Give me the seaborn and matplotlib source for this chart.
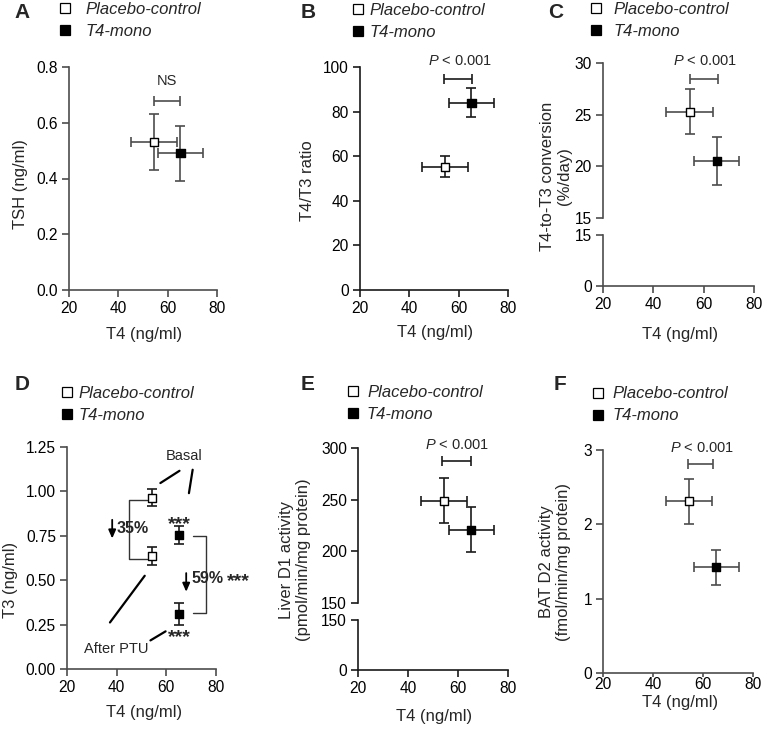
import matplotlib
matplotlib.use("Agg")
import matplotlib.pyplot as plt
import seaborn as sns
import pandas as pd
from matplotlib.lines import Line2D

# ---- data (mean, SD) ----
GROUPS = ["Placebo-control", "T4-mono"]
T4_MEAN = [54.4, 65.2]
T4_SD = [9.2, 9.0]

TSH_MEAN = [0.53, 0.49]
TSH_SD = [0.10, 0.10]
RATIO_MEAN = [55.3, 84.0]
RATIO_SD = [4.8, 6.4]
CONV_MEAN = [25.3, 20.5]
CONV_SD = [2.2, 2.3]
T3_BASAL = [0.965, 0.755]
T3_BASAL_SD = [0.05, 0.05]
T3_PTU = [0.635, 0.31]
T3_PTU_SD = [0.05, 0.06]
D1_MEAN = [249, 221]
D1_SD = [22, 21.5]
D2_MEAN = [2.31, 1.42]
D2_SD = [0.30, 0.23]

PALETTE = {"Placebo-control": "white", "T4-mono": "black"}
GRAY = "#4d4d4d"
DARK = "#1a1a1a"

sns.set_style("ticks")
plt.rcParams["font.family"] = ["Liberation Sans", "DejaVu Sans"]
plt.rcParams["mathtext.fontset"] = "custom"
plt.rcParams["mathtext.rm"] = "Liberation Sans"
plt.rcParams["mathtext.it"] = "Liberation Sans:italic"

W, H = 765, 739
fig = plt.figure(figsize=(W / 100, H / 100), dpi=100)


def pix_axes(l, t, r, b):
    return fig.add_axes([l / W, 1 - b / H, (r - l) / W, (b - t) / H])


def style(ax, col, show_x=True, xpad=3):
    ax.set_xlim(20, 80)
    ax.set_xticks([20, 40, 60, 80])
    sns.despine(ax=ax)
    for s in ["left", "bottom"]:
        ax.spines[s].set_color(col)
        ax.spines[s].set_linewidth(1.2)
    ax.tick_params(direction="out", length=5, width=1.2, color=col,
                   labelsize=11.2, pad=3, labelcolor="black")
    ax.tick_params(axis="x", pad=xpad)
    if not show_x:
        ax.spines["bottom"].set_visible(False)
        ax.tick_params(axis="x", bottom=False, labelbottom=False)
    ax.set_xlabel("")
    ax.set_ylabel("")


def points(ax, ymean, ysd, col, xerr=True):
    df = pd.DataFrame({"T4": T4_MEAN, "val": ymean, "group": GROUPS})
    ax.errorbar(df["T4"], df["val"], xerr=T4_SD if xerr else None, yerr=ysd,
                fmt="none", ecolor=col, elinewidth=1.2, capsize=3.3,
                capthick=1.2, zorder=2)
    sns.scatterplot(data=df, x="T4", y="val", hue="group", palette=PALETTE,
                    marker="s", s=34, edgecolor="black", linewidth=1,
                    legend=False, ax=ax, zorder=3)
    ax.set_xlabel("")
    ax.set_ylabel("")


def bracket(ax, x0, x1, y, col):
    ax.errorbar([(x0 + x1) / 2], [y], xerr=[(x1 - x0) / 2], fmt="none",
                ecolor=col, elinewidth=1.2, capsize=3.3, capthick=1.2)


def legend(ax, mx, y1, y2, pad, ms=6.5):
    handles = [Line2D([], [], ls="none", marker="s", ms=ms, mfc="white",
                      mec="black", mew=0.9),
               Line2D([], [], ls="none", marker="s", ms=ms, mfc="black",
                      mec="black", mew=0.9)]
    ax.legend(handles, GROUPS, loc="center left",
              bbox_to_anchor=((mx - 6) / W, 1 - (y1 + y2) / 2 / H),
              bbox_transform=fig.transFigure, frameon=False, borderpad=0,
              borderaxespad=0, handlelength=0.75, handletextpad=pad,
              labelspacing=0.42, prop={"style": "italic", "size": 12})


def ftext(x, y, s, **kw):
    fig.text(x / W, 1 - y / H, s, ha="center", va="center", **kw)


STARS = dict(fontsize=14, fontweight="bold", va="center")

# ---- A ----
ax = pix_axes(69, 67, 217, 290)
points(ax, TSH_MEAN, TSH_SD, GRAY)
ax.set_ylim(0, 0.8)
ax.set_yticks([0, 0.2, 0.4, 0.6, 0.8])
ax.set_yticklabels(["0.0", "0.2", "0.4", "0.6", "0.8"])
style(ax, GRAY)
bracket(ax, 54.4, 65.2, 0.677, GRAY)
ax.text(59.8, 0.75, "NS", ha="center", va="center", fontsize=10.5)
legend(ax, 65, 9, 32, 0.85, ms=7.5)
ftext(21, 184, "TSH (ng/ml)", rotation=90, fontsize=12)
ftext(144, 335, "T4 (ng/ml)", fontsize=12)
ftext(22, 13, "A", fontsize=15, fontweight="bold")

# ---- B ----
ax = pix_axes(360, 67, 508, 290)
points(ax, RATIO_MEAN, RATIO_SD, DARK)
ax.set_ylim(0, 100)
ax.set_yticks(range(0, 101, 20))
style(ax, DARK)
bracket(ax, 54.0, 65.3, 94.7, DARK)
ax.text(60.7, 102.5, "$P$ < 0.001", ha="center", va="center", fontsize=10.5)
legend(ax, 358, 10, 33, 0.32)
ftext(307, 181, "T4/T3 ratio", rotation=90, fontsize=12)
ftext(435, 333, "T4 (ng/ml)", fontsize=12)
ftext(308, 13, "B", fontsize=15, fontweight="bold")

# ---- C (broken y axis) ----
ax = pix_axes(603, 63, 754, 218)
points(ax, CONV_MEAN, CONV_SD, GRAY)
ax.set_ylim(15, 30)
ax.set_yticks([15, 20, 25, 30])
style(ax, GRAY, show_x=False)
bracket(ax, 54.6, 65.8, 28.45, GRAY)
ax.text(60.5, 30.2, "$P$ < 0.001", ha="center", va="center", fontsize=10.5)
legend(ax, 596, 9, 31, 0.65)
axl = pix_axes(603, 235, 754, 286)
axl.set_ylim(0, 15)
axl.set_yticks([0, 15])
style(axl, GRAY)
ftext(556, 176, "T4-to-T3 conversion\n(%/day)", rotation=90, fontsize=12,
      linespacing=1.1)
ftext(680, 335, "T4 (ng/ml)", fontsize=12)
ftext(556, 13, "C", fontsize=15, fontweight="bold")

# ---- D ----
ax = pix_axes(67, 447, 216, 669)
points(ax, T3_BASAL, T3_BASAL_SD, DARK, xerr=False)
points(ax, T3_PTU, T3_PTU_SD, DARK, xerr=False)
ax.set_ylim(0, 1.25)
ax.set_yticks([0, 0.25, 0.5, 0.75, 1.0, 1.25])
ax.set_yticklabels(["0.00", "0.25", "0.50", "0.75", "1.00", "1.25"])
style(ax, GRAY)
# brackets between basal and after PTU
ax.plot([52.2, 45, 45, 52.2], [0.952, 0.952, 0.621, 0.621], color="#333333", lw=1)
ax.plot([70.7, 76, 76, 70.7], [0.75, 0.75, 0.315, 0.315], color="#333333", lw=1)
arrow = dict(arrowstyle="-|>,head_length=0.5,head_width=0.22", color="black",
             lw=1.3, shrinkA=0, shrinkB=0)
ax.annotate("", xy=(38.2, 0.735), xytext=(38.2, 0.84), arrowprops=arrow)
ax.annotate("", xy=(68.0, 0.435), xytext=(68.0, 0.54), arrowprops=arrow)
ax.text(40, 0.79, "35%", ha="left", va="center", fontsize=11.5, fontweight="bold")
ax.text(70.2, 0.51, "59%", ha="left", va="center", fontsize=11.5, fontweight="bold")
ax.text(84.5, 0.495, "***", ha="left", **STARS)
ax.text(65.3, 0.815, "***", ha="center", **STARS)
ax.text(65.3, 0.178, "***", ha="center", **STARS)
ax.text(67, 1.2, "Basal", ha="center", va="center", fontsize=10.5)
ax.text(39.7, 0.11, "After PTU", ha="center", va="center", fontsize=10.5)
ax.plot([57.6, 65.3], [1.047, 1.116], color="black", lw=1.6)
ax.plot([70.6, 69.1], [1.122, 0.99], color="black", lw=1.6)
ax.plot([37.3, 51.3], [0.262, 0.525], color="black", lw=1.6)
ax.plot([53.6, 59.7], [0.161, 0.212], color="black", lw=1.6)
legend(ax, 67, 392, 417, 0.3)
ftext(11, 580, "T3 (ng/ml)", rotation=90, fontsize=12)
ftext(144, 712, "T4 (ng/ml)", fontsize=12)
ftext(22, 385, "D", fontsize=15, fontweight="bold")

# ---- E (broken y axis) ----
ax = pix_axes(358, 448, 508, 603)
points(ax, D1_MEAN, D1_SD, DARK)
ax.set_ylim(150, 300)
ax.set_yticks([150, 200, 250, 300])
style(ax, DARK, show_x=False)
bracket(ax, 53.6, 65.1, 287, DARK)
ax.text(59.5, 303, "$P$ < 0.001", ha="center", va="center", fontsize=10.5)
legend(ax, 353, 391, 415, 0.45)
axl = pix_axes(358, 620, 508, 670)
axl.set_ylim(0, 150)
axl.set_yticks([0, 150])
style(axl, DARK)
ftext(295, 560, "Liver D1 activity\n(pmol/min/mg protein)", rotation=90,
      fontsize=12, linespacing=1.1)
ftext(434, 717, "T4 (ng/ml)", fontsize=12)
ftext(308, 385, "E", fontsize=15, fontweight="bold")

# ---- F ----
ax = pix_axes(603, 450, 753, 673)
points(ax, D2_MEAN, D2_SD, GRAY)
ax.set_ylim(0, 3)
ax.set_yticks([0, 1, 2, 3])
style(ax, GRAY, xpad=0)
ax.tick_params(axis="x", length=3)
bracket(ax, 54.0, 64.0, 2.81, GRAY)
ax.text(59.5, 3.03, "$P$ < 0.001", ha="center", va="center", fontsize=10.5)
legend(ax, 598, 392, 418, 0.45)
ftext(555, 562, "BAT D2 activity\n(fmol/min/mg protein)", rotation=90,
      fontsize=12, linespacing=1.1)
ftext(680, 702, "T4 (ng/ml)", fontsize=12)
ftext(560, 385, "F", fontsize=15, fontweight="bold")

fig.savefig("out.png", dpi=100)
